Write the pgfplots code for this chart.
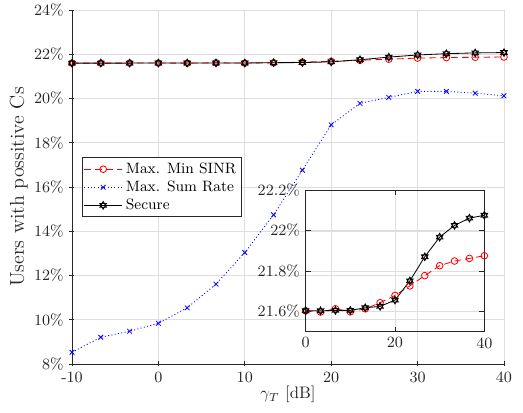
\documentclass[border=0pt]{standalone}
\usepackage{pgfplots}
\pgfplotsset{compat=1.18}
\definecolor{axgray}{RGB}{38,38,38}
\definecolor{gridgray}{RGB}{222,222,222}
\pgfdeclareplotmark{hexagram}{%
  \pgfpathmoveto{\pgfpointpolar{90}{1.15\pgfplotmarksize}}%
  \pgfpathlineto{\pgfpointpolar{210}{1.15\pgfplotmarksize}}%
  \pgfpathlineto{\pgfpointpolar{330}{1.15\pgfplotmarksize}}%
  \pgfpathclose
  \pgfpathmoveto{\pgfpointpolar{270}{1.15\pgfplotmarksize}}%
  \pgfpathlineto{\pgfpointpolar{30}{1.15\pgfplotmarksize}}%
  \pgfpathlineto{\pgfpointpolar{150}{1.15\pgfplotmarksize}}%
  \pgfpathclose
  \pgfusepathqstroke
}
\pgfplotstableread{
x minsinr sumrate secure
-10      21.600 8.53  21.600
-6.6667  21.600 9.21  21.600
-3.3333  21.600 9.48  21.600
0        21.603 9.84  21.603
3.3333   21.597 10.54 21.603
6.6667   21.613 11.61 21.605
10       21.598 13.04 21.605
13.3333  21.613 14.74 21.618
16.6667  21.643 16.76 21.625
20       21.679 18.81 21.656
23.3333  21.726 19.78 21.751
26.6667  21.777 20.05 21.870
30       21.826 20.32 21.967
33.3333  21.849 20.32 22.025
36.6667  21.862 20.24 22.061
40       21.875 20.12 22.075
}\datatable
\pgfplotstableread{
x minsinr secure
0        21.603 21.603
3.3333   21.597 21.603
6.6667   21.613 21.605
10       21.598 21.605
13.3333  21.613 21.618
16.6667  21.643 21.625
20       21.679 21.656
23.3333  21.726 21.751
26.6667  21.777 21.870
30       21.826 21.967
33.3333  21.849 22.025
36.6667  21.862 22.061
40       21.875 22.075
}\insettable
\pgfplotsset{
  mystyle/.style={
    scale only axis,
    clip=false,
    grid=major,
    major grid style={draw=gridgray, line width=0.4pt},
    tick align=inside,
    major tick length=3pt,
    tick style={draw=axgray, line width=0.4pt},
    every tick label/.append style={text=axgray, font=\fontsize{9.4}{11}\selectfont},
    /pgf/number format/assume math mode=true,
    yticklabel={\pgfmathprintnumber{\tick}\%},
    legend image code/.code={\draw[mark repeat=2,mark phase=2] plot coordinates {(0cm,0cm) (0.4cm,0cm) (0.8cm,0cm)};},
  },
  sinrstyle/.style={red, line width=0.5pt, dash pattern=on 4pt off 2.5pt, mark=o, mark size=2pt, mark options={solid}},
  sumstyle/.style={blue, line width=0.5pt, dash pattern=on 0.6pt off 1.4pt, mark=x, mark size=2pt, mark options={solid}},
  securestyle/.style={black, line width=0.5pt, mark=hexagram, mark size=2pt, mark options={solid}},
}
\begin{document}
\begin{tikzpicture}
\useasboundingbox (-43.2pt,-29.4pt) rectangle (270.6pt,218.4pt);
\begin{axis}[mystyle,
  name=main, at={(0,0)}, anchor=south west,
  width=259.2pt, height=212.4pt,
  xmin=-10, xmax=40, ymin=8, ymax=24,
  xtick={-10,0,10,20,30,40},
  ytick={8,10,12,14,16,18,20,22,24},
  axis lines=left,
  axis line style={-, draw=axgray, line width=0.5pt},
  xlabel={$\gamma_T$ [dB]},
  ylabel={Users with possitive Cs},
  xlabel style={font=\fontsize{10}{12}\selectfont, text=axgray, yshift=5pt},
  ylabel style={font=\fontsize{12}{14}\selectfont, text=axgray, yshift=-3pt},
  legend style={at={(0.0225,0.584)}, anchor=north west, draw=axgray, line width=0.5pt, fill=white,
    font=\fontsize{9}{11}\selectfont, text=black, inner xsep=1pt, inner ysep=1pt,
    row sep=-1pt, cells={anchor=west}},
]
\addplot[sinrstyle] table[x=x, y=minsinr] {\datatable};
\addlegendentry{Max. Min SINR}
\addplot[sumstyle] table[x=x, y=sumrate] {\datatable};
\addlegendentry{Max. Sum Rate}
\addplot[securestyle] table[x=x, y=secure] {\datatable};
\addlegendentry{Secure}
\end{axis}
\begin{axis}[mystyle,
  name=inset, at={(140.2pt,19.4pt)}, anchor=south west,
  width=107.2pt, height=85pt,
  xmin=0, xmax=40, ymin=21.5, ymax=22.2,
  xtick={0,20,40},
  ytick={21.6,21.8,22,22.2},
  axis line style={draw=axgray, line width=0.5pt},
  /pgf/number format/precision=2,
]
\addplot[sinrstyle] table[x=x, y=minsinr] {\insettable};
\addplot[securestyle] table[x=x, y=secure] {\insettable};
\end{axis}
\end{tikzpicture}
\end{document}
